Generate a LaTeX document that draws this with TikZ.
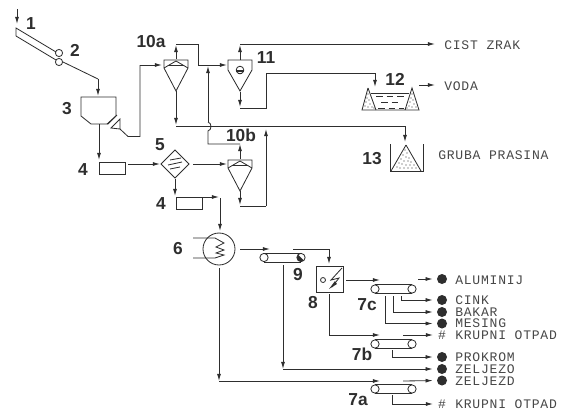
\documentclass[tikz,border=0pt]{standalone}
\usepackage{fontspec}
\setmainfont{Liberation Sans}
\newfontfamily\cadfont[LetterSpace=5.8]{Liberation Mono}
\usetikzlibrary{arrows.meta}
\definecolor{ink}{gray}{0.18}
\tikzset{
  ln/.style={draw=ink,line width=0.62pt},
  arr/.style={ln,-{Latex[length=5.4pt,width=3pt]}},
  arrm/.style={arr,shorten >=3pt},
  num/.style={font=\fontsize{13}{13}\selectfont\bfseries,text=ink,inner sep=0pt},
  txt/.style={font=\cadfont\fontsize{9.8}{10}\selectfont,text=black!72,anchor=west,inner sep=0pt},
  hashm/.style={font=\cadfont\fontsize{9.8}{10}\selectfont,text=black!72,inner sep=0pt},
  roll/.style={circle,ln,minimum size=6.2pt,inner sep=0pt},
  smroll/.style={circle,ln,minimum size=5.4pt,inner sep=0pt},
  blob/.style={circle,fill=ink,minimum size=7.5pt,inner sep=0pt},
  boxx/.style={rectangle,ln,inner sep=0pt},
  dotty/.style={fill=ink}
}
\newcommand{\myconv}[3]{%
  \node[roll] (#1l) at (#2,#3) {};
  \node[roll] (#1r) at (#2+37,#3) {};
  \draw[ln] (#1l.north) -- (#1r.north);
  \draw[ln] (#1l.south) -- (#1r.south);
}
\newcommand{\mycyc}[2]{%
  \draw[ln] (#1-12,#2) -- (#1+12,#2) -- (#1+12,#2+8) -- (#1,#2+31) -- (#1-12,#2+8) -- cycle;
}
\begin{document}
\begin{tikzpicture}[x=0.75pt,y=-0.75pt]
\useasboundingbox (0,0) rectangle (563,412);
% named equipment
\node[boxx,minimum width=19.5pt,minimum height=9pt] (boxA) at (112,168) {};
\node[boxx,minimum width=19.5pt,minimum height=9pt] (boxB) at (189,203.5) {};
\node[boxx,minimum width=20.3pt,minimum height=19.5pt] (sep8) at (329.5,279) {};
\node[circle,ln,minimum size=24pt,inner sep=0pt] (dry6) at (219,249) {};
\node[smroll] (rollA) at (59,53) {};
\node[smroll] (rollB) at (59,62) {};
\node[rectangle,draw=ink,line width=0.62pt,rotate=45,minimum size=14.8pt,inner sep=0pt] (filt5) at (175,164) {};
% text labels
\node[num] at (31,24) {1};
\node[num] at (75,50) {2};
\node[num] at (67,109) {3};
\node[num] at (83,170) {4};
\node[num] at (161,204) {4};
\node[num] at (160,145) {5};
\node[num] at (178,249) {6};
\node[num] at (151,42) {10a};
\node[num] at (241,135) {10b};
\node[num] at (266,58) {11};
\node[num] at (395,79) {12};
\node[num] at (372,159) {13};
\node[num] at (298,275) {9};
\node[num] at (313,303) {8};
\node[num] at (367,305) {7c};
\node[num] at (362,354) {7b};
\node[num] at (358,400) {7a};
\node[txt] at (444,45) {CIST ZRAK};
\node[txt] at (444,86) {VODA};
\node[txt] at (438,155) {GRUBA PRASINA};
\node[txt] at (455,280) {ALUMINIJ};
\node[txt] at (455,300) {CINK};
\node[txt] at (455,312) {BAKAR};
\node[txt] at (455,323.5) {MESING};
\node[txt] at (455,335) {KRUPNI OTPAD};
\node[txt] at (455,357) {PROKROM};
\node[txt] at (455,369) {ZELJEZO};
\node[txt] at (455,381) {ZELJEZD};
\node[txt] at (455,404) {KRUPNI OTPAD};
% output markers
\node[blob] (mAl) at (442,279) {};
\node[blob] (mCi) at (442,300) {};
\node[blob] (mBa) at (442,312) {};
\node[blob] (mMe) at (442,323.5) {};
\node[blob] (mPr) at (442,357) {};
\node[blob] (mZa) at (442,369) {};
\node[blob] (mZb) at (442,380.5) {};
\node[hashm] (mKa) at (442,335) {\#};
\node[hashm] (mKb) at (442,404) {\#};
% chute
\draw[ln] (16,36) -- (16,28) -- (56,52);
\draw[ln] (16,36) -- (56,60);
\coordinate (feed) at (17,9);
\coordinate (chuteIn) at (17,24);
\draw[arr] (feed) -- (chuteIn);
\coordinate (c1) at (98,79);
\coordinate (hopIn) at (98,96);
\draw[ln] (rollB.east) -- (c1);
\draw[arr] (c1) -- (hopIn);
% hopper 3
\draw[ln] (81,97) -- (116,97) -- (116,116) -- (108,124) -- (91,124) -- (81,116) -- cycle;
\draw[ln] (107,124) -- (117,115);
\draw[ln] (111,128) -- (120,119) -- (120,129) -- cycle;
% cyclones
\mycyc{176}{60}
\draw[ln] (164,68) -- (176,61) -- (188,68);
\draw[ln] (168,65) -- (184,65);
\mycyc{240}{160}
\draw[ln] (228,168) -- (240,161) -- (252,168);
\draw[ln] (232,165) -- (248,165);
\draw[ln] (228,60) -- (252,60) -- (252,70) -- (240,91) -- (228,70) -- cycle;
\draw[ln] (240,70) circle[radius=3.8];
\fill[ink] (236.2,70) rectangle (243.8,71.5);
\fill[ink] (238,72.5) rectangle (242,73.5);
% filter interior
\draw[ln] (170,160) -- (181,158);
\draw[ln] (168,165) -- (182,162);
\draw[ln] (170,169) -- (180,167);
% dryer coil
\draw[ln] (193,238) -- (215,238) -- (224,243) -- (216,247) -- (224,250) -- (216,253) -- (224,255) -- (215,258) -- (193,258);
% connections upper
\coordinate (t3a) at (120,129); \coordinate (p1) at (128,136.5); \coordinate (p2) at (140,136.5); \coordinate (p3) at (140,65); \coordinate (cyAin) at (162,65);
\draw[ln] (t3a) -- (p1) -- (p2) -- (p3);
\draw[arr] (p3) -- (cyAin);
\coordinate (cyAtop) at (176,59); \coordinate (cyAup) at (176,45);
\draw[arr] (cyAtop) -- (cyAup);
\coordinate (a1) at (176,44); \coordinate (a2) at (198,44); \coordinate (a3) at (198,65); \coordinate (cyCin) at (227,65);
\draw[ln] (a1) -- (a2) -- (a3);
\draw[arr] (a3) -- (cyCin);
\coordinate (cyCtop) at (240,60); \coordinate (cyCup) at (240,45);
\draw[arr] (cyCtop) -- (cyCup);
\coordinate (cyCcor) at (240,44); \coordinate (outAir) at (435,44);
\draw[arr] (cyCcor) -- (outAir);
\coordinate (cyCbot) at (240,92); \coordinate (cyCdn) at (240,107);
\draw[arr] (cyCbot) -- (cyCdn);
\coordinate (w0) at (240,108); \coordinate (w1) at (266,108); \coordinate (w2) at (266,73); \coordinate (w3) at (375,73); \coordinate (pond) at (375,87);
\draw[ln] (w0) -- (w1) -- (w2) -- (w3);
\draw[arr] (w3) -- (pond);
\coordinate (wa) at (419,85); \coordinate (wb) at (435,85);
\draw[arr] (wa) -- (wb);
% dust line
\coordinate (cyAbot) at (176,91); \coordinate (cyAdn) at (176,125);
\draw[arr] (cyAbot) -- (cyAdn);
\coordinate (d0) at (176,126); \coordinate (d1) at (405,126); \coordinate (d2) at (405,142);
\draw[ln] (d0) -- (d1);
\draw[arr] (d1) -- (d2);
% return from 10b
\coordinate (cyBtop) at (240,159); \coordinate (cyBup) at (240,144);
\draw[arr] (cyBtop) -- (cyBup);
\coordinate (r0) at (240,144); \coordinate (r1) at (208,144); \coordinate (r2) at (208,131); \coordinate (r3) at (208,122); \coordinate (r4) at (208,66);
\draw[ln] (r0) -- (r1) -- (r2) .. controls (212,130) and (212,123) .. (r3);
\draw[arr] (r3) -- (r4);
\coordinate (cyBbot) at (240,191); \coordinate (cyBdn) at (240,205);
\draw[arr] (cyBbot) -- (cyBdn);
\coordinate (b0) at (240,206); \coordinate (b1) at (266,206); \coordinate (b2) at (266,129);
\draw[ln] (b0) -- (b1);
\draw[arr] (b1) -- (b2);
% mid process
\coordinate (hopOut) at (99,124); \coordinate (boxAin) at (99,160);
\draw[arr] (hopOut) -- (boxAin);
\coordinate (a4o) at (128,164); \coordinate (f5w) at (160,164);
\draw[arr] (a4o) -- (f5w);
\coordinate (f5e) at (193,164); \coordinate (cyBin) at (227,164);
\draw[arr] (f5e) -- (cyBin);
\coordinate (f5s) at (175,179); \coordinate (f5d) at (175,196);
\draw[arr] (f5s) -- (f5d);
\coordinate (bb1) at (203,197); \coordinate (bb2) at (219,197);
\draw[arr] (bb1) -- (bb2);
\coordinate (bb3) at (220,198); \coordinate (dryIn) at (220,231);
\draw[arr] (bb3) -- (dryIn);
% conveyor 9
\myconv{cn}{264}{257.5}
\fill[ink] (301,257.5) ++(3,3) arc[start angle=45,end angle=225,radius=4.2] -- cycle;
\coordinate (d6e) at (240,249); \coordinate (cnIn) at (270,249);
\draw[arr] (d6e) -- (cnIn);
\coordinate (n1) at (293,249); \coordinate (n2) at (329,249); \coordinate (n2b) at (329,264);
\draw[ln] (n1) -- (n2);
\draw[arr] (n2) -- (n2b);
\coordinate (n3) at (283,265); \coordinate (n4) at (283,369);
\draw[arr] (n3) -- (n4);
\draw[arrm] (n4) -- (mZa.west);
% separator interior
\draw[ln] (323,280) circle[radius=2.5];
\draw[ln] (342,268) -- (331,280) -- (339,278) -- (332,287);
\fill[ink] (329,289) -- (335,281) -- (337,284) -- cycle;
% dryer bottom
\coordinate (y0) at (219,268); \coordinate (y1) at (219,381); \coordinate (y2) at (380,381);
\draw[arr] (y0) -- (y1);
\draw[arr] (y1) -- (y2);
% separator outs
\coordinate (s1) at (346,280); \coordinate (s2) at (380,280);
\draw[arr] (s1) -- (s2);
\coordinate (s3) at (329,294); \coordinate (s4) at (329,335); \coordinate (s5) at (380,335);
\draw[ln] (s3) -- (s4);
\draw[arr] (s4) -- (s5);
% conveyors 7
\myconv{ca}{375}{289}
\myconv{cb}{375}{344}
\myconv{cc}{375}{389}
\coordinate (o1) at (418,279);
\draw[arrm] (o1) -- (mAl.west);
\coordinate (o2) at (401,296); \coordinate (o3) at (401,300);
\draw[ln] (o2) -- (o3);
\draw[arrm] (o3) -- (mCi.west);
\coordinate (o4) at (393,296); \coordinate (o5) at (393,312);
\draw[ln] (o4) -- (o5);
\draw[arrm] (o5) -- (mBa.west);
\coordinate (o6) at (385,296); \coordinate (o7) at (385,323.5);
\draw[ln] (o6) -- (o7);
\draw[arrm] (o7) -- (mMe.west);
\coordinate (o8) at (403,335); \coordinate (o8b) at (433,335);
\draw[arr] (o8) -- (o8b);
\coordinate (o9) at (392,350); \coordinate (o10) at (392,357);
\draw[ln] (o9) -- (o10);
\draw[arrm] (o10) -- (mPr.west);
\coordinate (o11) at (403,381);
\draw[arrm] (o11) -- (mZb.west);
\coordinate (o12) at (392,395); \coordinate (o13) at (392,404); \coordinate (o13b) at (433,404);
\draw[ln] (o12) -- (o13);
\draw[arr] (o13) -- (o13b);
% pond 12
\draw[ln] (368,88) -- (362,110) -- (419,110) -- (412,88) -- (405,110);
\draw[ln] (368,88) -- (376,110);
\draw[ln] (371,93) -- (409,93);
\draw[ln,dash pattern=on 5pt off 3pt] (376,96) -- (406,96);
\draw[ln,dash pattern=on 5pt off 3pt] (381,102) -- (402,102);
\draw[ln,dash pattern=on 5pt off 3pt] (378,108) -- (404,108);
% pile 13
\draw[ln] (390,144) -- (390,171) -- (423,171) -- (423,144);
\draw[ln] (406,145) -- (391,171);
\draw[ln] (406,145) -- (421,171);
% sand dots
\foreach \px/\py in {368/94,367/98,369/100,366/102,370/104,365/106,368/107,372/107,374/108,
  412/94,411/98,413/100,410/102,414/104,409/106,412/107,416/107,407/108,
  405/150,407/153,403/155,406/157,409/158,401/159,404/161,408/161,411/162,399/163,402/164,406/165,410/165,414/165,397/167,400/168,404/168,408/168,412/168,416/168}
  \fill[dotty] (\px,\py) circle[radius=0.6];
\end{tikzpicture}
\end{document}
